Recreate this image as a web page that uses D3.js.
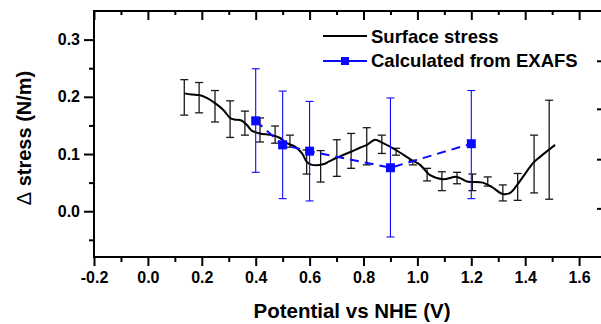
<!DOCTYPE html>
<html>
<head>
<meta charset="utf-8">
<script src="https://cdn.jsdelivr.net/npm/d3@7"></script>
<style>
  html, body { margin: 0; padding: 0; background: #fff; }
  svg { display: block; font-family: "Liberation Sans", Arial, sans-serif; }
  .axis text { font-size: 16px; font-weight: bold; fill: #000; }
  .axis line { stroke: #000; stroke-width: 2; }
  .axis path { display: none; }
</style>
</head>
<body>
<div id="chart"></div>
<script>
// surface stress curve (potential V, stress N/m)
const stressCurve = [
  [0.135, 0.206], [0.163, 0.204], [0.190, 0.203], [0.218, 0.198], [0.249, 0.189],
  [0.280, 0.177], [0.305, 0.163], [0.323, 0.160], [0.345, 0.159], [0.367, 0.151],
  [0.385, 0.141], [0.416, 0.136], [0.460, 0.133], [0.490, 0.128], [0.516, 0.119],
  [0.546, 0.113], [0.572, 0.101], [0.590, 0.086], [0.609, 0.081], [0.650, 0.082],
  [0.672, 0.087], [0.698, 0.093], [0.754, 0.104], [0.787, 0.111], [0.813, 0.116],
  [0.843, 0.125], [0.869, 0.120], [0.921, 0.107], [0.950, 0.098], [0.980, 0.089],
  [1.010, 0.081], [1.047, 0.063], [1.095, 0.056], [1.147, 0.060], [1.184, 0.052],
  [1.243, 0.050], [1.277, 0.042], [1.318, 0.030], [1.344, 0.032], [1.370, 0.046],
  [1.399, 0.065], [1.429, 0.084], [1.455, 0.095], [1.511, 0.116]
];

// error bars of the surface stress curve: [x, high, low]
const stressErrors = [
  [0.135, 0.230, 0.168], [0.190, 0.225, 0.172], [0.249, 0.211, 0.156],
  [0.305, 0.193, 0.129], [0.360, 0.175, 0.133], [0.416, 0.163, 0.121],
  [0.472, 0.149, 0.119], [0.527, 0.133, 0.112], [0.589, 0.107, 0.065],
  [0.641, 0.106, 0.051], [0.701, 0.125, 0.061], [0.754, 0.136, 0.075],
  [0.812, 0.146, 0.081], [0.868, 0.133, 0.101], [0.921, 0.110, 0.098],
  [0.983, 0.089, 0.081], [1.036, 0.075, 0.053], [1.091, 0.069, 0.036],
  [1.147, 0.068, 0.048], [1.204, 0.065, 0.036], [1.261, 0.060, 0.044],
  [1.317, 0.046, 0.018], [1.372, 0.066, 0.019], [1.433, 0.133, 0.032],
  [1.489, 0.194, 0.021]
];

// calculated from EXAFS
const exafsX = [0.4, 0.5, 0.6, 0.9, 1.2];
const exafsY = [0.158, 0.116, 0.105, 0.076, 0.118];
const exafsHigh = [0.249, 0.210, 0.192, 0.198, 0.211];
const exafsLow = [0.068, 0.022, 0.018, -0.045, 0.022];

const xMajor = [-0.2, 0, 0.2, 0.4, 0.6, 0.8, 1.0, 1.2, 1.4, 1.6];
const xMinor = [-0.1, 0.1, 0.3, 0.5, 0.7, 0.9, 1.1, 1.3, 1.5, 1.7];
const yMajor = [0, 0.1, 0.2, 0.3];
const yMinor = [-0.05, 0.05, 0.15, 0.25];
const rightTicks = [0.005, 0.091, 0.179, 0.263]; // cut-off axis at the right edge

const legendLabels = ['Surface stress', 'Calculated from EXAFS'];

var svgWidth = 601, svgHeight = 324;
var plotLeft = 94, plotTop = 11, plotBottom = 257, plotRight = 633;
var blue = '#0a0aff';

var svg = d3.select('#chart').append('svg')
  .attr('width', svgWidth)
  .attr('height', svgHeight);

const x = d3.scaleLinear().domain([-0.2, 1.8]).range([plotLeft, plotRight]);
const y = d3.scaleLinear().domain([-0.08, 0.35]).range([plotBottom, plotTop]);
const fmt = (d) => d.toFixed(1);

// axes: major + minor ticks
svg.append('g').attr('class', 'axis')
  .attr('transform', `translate(0,${plotBottom})`)
  .call(d3.axisBottom(x).tickValues(xMajor).tickSize(9).tickPadding(6).tickFormat(fmt));
svg.append('g').attr('class', 'axis')
  .attr('transform', `translate(0,${plotBottom})`)
  .call(d3.axisBottom(x).tickValues(xMinor).tickSize(5).tickFormat(''));
svg.append('g').attr('class', 'axis')
  .attr('transform', `translate(0,${plotTop})`)
  .call(d3.axisTop(x).tickValues(xMajor).tickSize(-9).tickFormat(''));
svg.append('g').attr('class', 'axis')
  .attr('transform', `translate(0,${plotTop})`)
  .call(d3.axisTop(x).tickValues(xMinor).tickSize(-4).tickFormat(''));
svg.append('g').attr('class', 'axis')
  .attr('transform', `translate(${plotLeft},0)`)
  .call(d3.axisLeft(y).tickValues(yMajor).tickSize(10).tickPadding(4).tickFormat(fmt));
svg.append('g').attr('class', 'axis')
  .attr('transform', `translate(${plotLeft},0)`)
  .call(d3.axisLeft(y).tickValues(yMinor).tickSize(5).tickFormat(''));
svg.append('g').attr('class', 'axis')
  .attr('transform', `translate(609,0)`)
  .call(d3.axisRight(y).tickValues(rightTicks).tickSize(-12).tickFormat(''));

// frame
const frame = svg.append('g')
  .attr('stroke', '#000').attr('stroke-width', 2).attr('stroke-linecap', 'square');
frame.append('line').attr('x1', plotLeft).attr('x2', plotLeft).attr('y1', plotTop).attr('y2', plotBottom);
frame.append('line').attr('x1', plotLeft).attr('x2', plotRight).attr('y1', plotBottom).attr('y2', plotBottom);
frame.append('line').attr('x1', plotLeft).attr('x2', plotRight).attr('y1', plotTop).attr('y2', plotTop);

// error bars helper
function errorBars(g, data, color, sw, cap) {
  const eb = g.selectAll('g').data(data).join('g')
    .attr('stroke', color).attr('stroke-width', sw).attr('fill', 'none');
  eb.append('line')
    .attr('x1', (d) => x(d[0])).attr('x2', (d) => x(d[0]))
    .attr('y1', (d) => y(d[1])).attr('y2', (d) => y(d[2]));
  eb.append('line')
    .attr('x1', (d) => x(d[0]) - cap).attr('x2', (d) => x(d[0]) + cap)
    .attr('y1', (d) => y(d[1])).attr('y2', (d) => y(d[1]));
  eb.append('line')
    .attr('x1', (d) => x(d[0]) - cap).attr('x2', (d) => x(d[0]) + cap)
    .attr('y1', (d) => y(d[2])).attr('y2', (d) => y(d[2]));
}

errorBars(svg.append('g'), stressErrors, '#1a1a1a', 1.3, 4);

svg.append('path')
  .datum(stressCurve)
  .attr('fill', 'none')
  .attr('stroke', '#000')
  .attr('stroke-width', 2)
  .attr('d', d3.line().x((d) => x(d[0])).y((d) => y(d[1])).curve(d3.curveCatmullRom));

const exafs = exafsX.map((v, i) => [v, exafsHigh[i], exafsLow[i], exafsY[i]]);
errorBars(svg.append('g'), exafs, blue, 1.1, 4);

svg.append('path')
  .datum(exafs)
  .attr('fill', 'none')
  .attr('stroke', blue)
  .attr('stroke-width', 2)
  .attr('stroke-dasharray', '9,6')
  .attr('d', d3.line().x((d) => x(d[0])).y((d) => y(d[3])));

svg.append('g').selectAll('rect').data(exafs).join('rect')
  .attr('x', (d) => x(d[0]) - 4.5)
  .attr('y', (d) => y(d[3]) - 4.5)
  .attr('width', 9).attr('height', 9)
  .attr('fill', blue);

// legend
const legend = svg.append('g').attr('font-size', '18.5px').attr('font-weight', 'bold');
legend.append('line').attr('x1', 323).attr('x2', 367).attr('y1', 36).attr('y2', 36)
  .attr('stroke', '#000').attr('stroke-width', 2);
legend.append('text').attr('x', 371).attr('y', 43).text(legendLabels[0]);
legend.append('line').attr('x1', 323).attr('x2', 367).attr('y1', 61).attr('y2', 61)
  .attr('stroke', blue).attr('stroke-width', 2);
legend.append('rect').attr('x', 341).attr('y', 57).attr('width', 8).attr('height', 8).attr('fill', blue);
legend.append('text').attr('x', 371).attr('y', 67).text(legendLabels[1]);

// axis titles
svg.append('text')
  .attr('x', 352).attr('y', 318)
  .attr('text-anchor', 'middle')
  .attr('font-size', '20.5px').attr('font-weight', 'bold')
  .text('Potential vs NHE (V)');

const yt = svg.append('text')
  .attr('transform', 'translate(31,138) rotate(-90)')
  .attr('text-anchor', 'middle')
  .attr('font-size', '20px').attr('font-weight', 'bold');
yt.append('tspan').attr('font-weight', 'normal').text('\u0394');
yt.append('tspan').text(' stress (N/m)');
</script>
</body>
</html>
